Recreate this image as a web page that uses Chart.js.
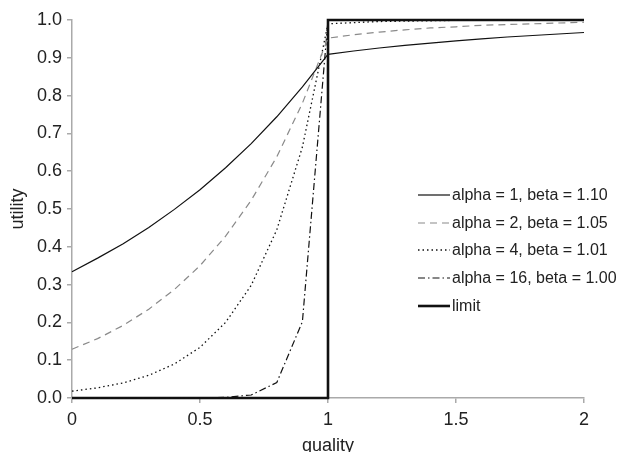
<!DOCTYPE html>
<html>
<head>
<meta charset="utf-8">
<title>utility vs quality</title>
<script src="https://cdn.jsdelivr.net/npm/chart.js@4/dist/chart.umd.min.js"></script>
<style>
  html, body { margin: 0; padding: 0; background: #fff; }
  canvas { display: block; }
</style>
</head>
<body>
<canvas id="utility-chart" width="621" height="452"></canvas>
<script>
// quality steps (x) - same for every curve
const quality = [0, 0.1, 0.2, 0.3, 0.4, 0.5, 0.6, 0.7, 0.8, 0.9, 1.0,
                 1.1, 1.2, 1.3, 1.4, 1.5, 1.6, 1.7, 1.8, 1.9, 2.0];

// utility, one array per curve
const alpha1 = [0.334, 0.370, 0.408, 0.451, 0.499, 0.551, 0.609, 0.673, 0.744, 0.823, 0.909,
                0.918, 0.926, 0.933, 0.939, 0.945, 0.950, 0.955, 0.959, 0.963, 0.967];
const alpha2 = [0.129, 0.157, 0.192, 0.235, 0.287, 0.350, 0.428, 0.523, 0.638, 0.780, 0.952,
                0.961, 0.968, 0.974, 0.979, 0.982, 0.986, 0.988, 0.990, 0.992, 0.994];
const alpha4 = [0.018, 0.027, 0.040, 0.060, 0.090, 0.134, 0.200, 0.298, 0.445, 0.664, 0.990,
                0.993, 0.996, 0.997, 0.998, 0.999, 0.999, 0.999, 1.000, 1.000, 1.000];
const alpha16 = [0.000, 0.000, 0.000, 0.000, 0.000, 0.0003, 0.0017, 0.008, 0.041, 0.202, 1.000,
                 1.000, 1.000, 1.000, 1.000, 1.000, 1.000, 1.000, 1.000, 1.000, 1.000];

// the step function
const limitX = [0, 1, 1, 2];
const limitY = [0, 0, 1, 1];

const seriesLabels = ['alpha = 1, beta = 1.10', 'alpha = 2, beta = 1.05',
                      'alpha = 4, beta = 1.01', 'alpha = 16, beta = 1.00', 'limit'];

const xTicks = [0, 0.5, 1, 1.5, 2];

const FONT = '"Liberation Sans", Arial, Helvetica, sans-serif';

function toPoints(xs, ys) {
    return xs.map((x, i) => ({ x: x, y: ys[i] }));
}

// legend sits inside the plot on the right, so just draw it by hand
const legendInside = {
    id: 'legendInside',
    afterDraw(chart) {
        const ctx = chart.ctx;
        const rowY = [195, 223, 250, 278, 306];
        ctx.save();
        chart.data.datasets.forEach((ds, i) => {
            const y = rowY[i];
            ctx.beginPath();
            ctx.strokeStyle = ds.borderColor;
            ctx.lineWidth = ds.borderWidth;
            ctx.setLineDash(ds.borderDash || []);
            ctx.moveTo(418, y);
            ctx.lineTo(450, y);
            ctx.stroke();
            ctx.setLineDash([]);
            ctx.fillStyle = '#222';
            ctx.font = '16px ' + FONT;
            ctx.textBaseline = 'middle';
            ctx.textAlign = 'left';
            ctx.fillText(ds.label, 452, y + 1);
        });
        ctx.restore();
    }
};

const lineStyles = [
    { color: '#111', width: 1.2, dash: [] },
    { color: '#8a8a8a', width: 1.2, dash: [7, 5] },
    { color: '#111', width: 1.3, dash: [1.5, 3] },
    { color: '#111', width: 1.2, dash: [7, 3, 1.5, 3] },
    { color: '#111', width: 2.6, dash: [] }
];

const curves = [alpha1, alpha2, alpha4, alpha16];

const datasets = curves.map((ys, i) => ({
    label: seriesLabels[i],
    data: toPoints(quality, ys),
    borderColor: lineStyles[i].color,
    borderWidth: lineStyles[i].width,
    borderDash: lineStyles[i].dash,
    showLine: true,
    pointRadius: 0,
    tension: 0,
    clip: 4
}));

datasets.push({
    label: seriesLabels[4],
    data: toPoints(limitX, limitY),
    borderColor: lineStyles[4].color,
    borderWidth: lineStyles[4].width,
    borderDash: [],
    showLine: true,
    pointRadius: 0,
    tension: 0,
    clip: 4
});

new Chart(document.querySelector('#utility-chart').getContext('2d'), {
    type: 'scatter',
    data: { datasets: datasets },
    options: {
        responsive: false,
        animation: false,
        layout: { padding: { top: 20, right: 37, left: 0, bottom: 0 } },
        plugins: {
            legend: { display: false },
            tooltip: { enabled: false }
        },
        scales: {
            x: {
                type: 'linear',
                min: 0,
                max: 2,
                afterBuildTicks: scale => { scale.ticks = xTicks.map(v => ({ value: v })); },
                afterFit: scale => { scale.height = 54; },
                ticks: {
                    color: '#222',
                    font: { family: FONT, size: 18 },
                    padding: 6,
                    maxRotation: 0,
                    callback: v => String(v)
                },
                grid: { drawOnChartArea: false, drawTicks: true, tickLength: 5, color: '#aaa', lineWidth: 1.5 },
                border: { color: '#aaa', width: 1.5 },
                title: {
                    display: true,
                    text: 'quality',
                    color: '#222',
                    font: { family: FONT, size: 18, lineHeight: 0.7 },
                    padding: 0
                }
            },
            y: {
                type: 'linear',
                min: 0,
                max: 1,
                afterFit: scale => { scale.width = 72; },
                ticks: {
                    stepSize: 0.1,
                    color: '#222',
                    font: { family: FONT, size: 18 },
                    padding: 5,
                    callback: v => Number(v).toFixed(1)
                },
                grid: { drawOnChartArea: false, drawTicks: true, tickLength: 5, color: '#aaa', lineWidth: 1.5 },
                border: { color: '#aaa', width: 1.5 },
                title: {
                    display: true,
                    text: 'utility',
                    color: '#222',
                    font: { family: FONT, size: 18, lineHeight: 1 },
                    padding: 9
                }
            }
        }
    },
    plugins: [legendInside]
});
</script>
</body>
</html>
